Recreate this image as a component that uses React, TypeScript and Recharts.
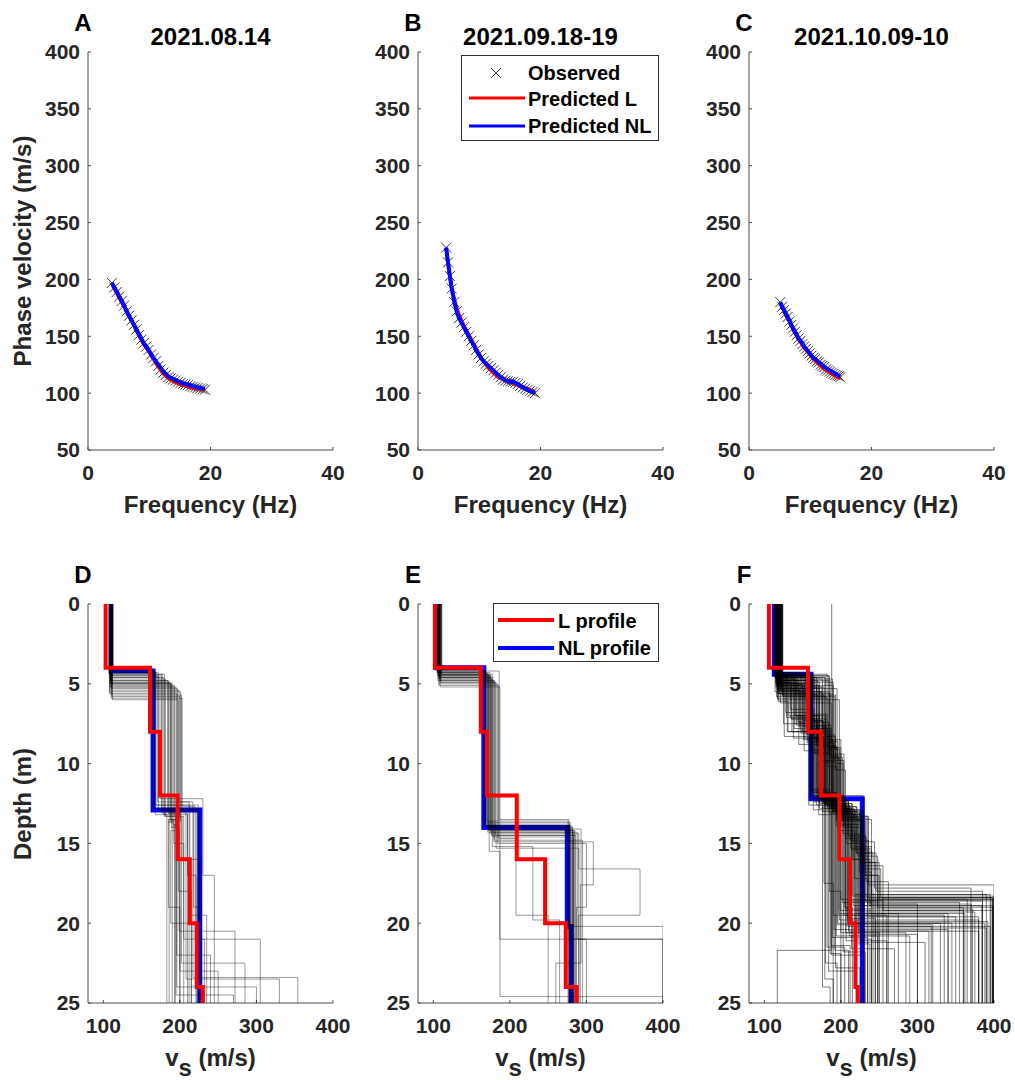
import React from "react";
import { ScatterChart, Scatter, XAxis, YAxis } from "recharts";

/* dispersion curves: frequency (Hz) and phase velocity (m/s) */
const freqA = [3.9, 4.3, 4.7, 5.1, 5.5, 5.9, 6.3, 6.7, 7.1, 7.5, 7.9, 8.3, 8.7, 9.1, 9.5, 9.9, 10.3, 10.7, 11.1, 11.5, 11.9, 12.3, 12.7, 13.1, 13.5, 13.9, 14.3, 14.7, 15.1, 15.5, 15.9, 16.3, 16.7, 17.1, 17.5, 17.9, 18.3, 18.7, 19.1];
const observedA = [197, 193, 189, 185, 181, 177, 172, 168, 164, 160, 156, 151, 147, 144, 141, 138, 134, 131, 128, 124, 121, 118, 116, 114, 113, 112, 111, 110, 109, 108, 107.5, 107, 106, 105.5, 105, 104.5, 104, 103.5, 103];
const predLA = [196, 192, 188, 184, 180, 176, 172, 168, 164, 160, 155, 151, 147, 143, 140, 137, 133, 130, 126, 123, 120, 117, 115, 113, 111.5, 110.5, 109.5, 108.5, 107.5, 107, 106.5, 106, 105, 104.5, 104, 104, 103.5, 103, 102.5];
const predNLA = [197, 193, 189, 185, 181, 177, 172, 168, 164, 160, 156, 152, 148, 144, 141, 138, 134, 131, 128, 125, 122, 119, 117, 115, 113.5, 112.5, 111.5, 110.5, 109.5, 108.5, 108, 107.5, 107, 106, 105.5, 105, 104.5, 104, 104];

const freqB = [4.6, 4.9, 5.2, 5.5, 5.9, 6.3, 6.7, 7.1, 7.5, 7.9, 8.3, 8.7, 9.1, 9.5, 9.9, 10.3, 10.7, 11.1, 11.5, 11.9, 12.3, 12.7, 13.1, 13.5, 13.9, 14.3, 14.7, 15.1, 15.5, 15.9, 16.3, 16.7, 17.1, 17.5, 17.9, 18.3, 18.7, 19.1];
const observedB = [228, 215, 203, 192, 180, 172, 166, 162, 158, 154, 150, 146, 142, 138, 134, 131, 128, 126, 124, 122, 120, 118, 116, 114, 112, 111, 110.5, 110, 110, 109, 108, 106.5, 105, 104, 103, 102, 101, 100];
const predLB = [226, 214, 203, 193, 183, 175, 169, 164, 159, 155, 151, 147, 143, 139, 135, 131, 128, 125, 122, 120, 118, 116, 114, 113, 112, 111, 110, 109.5, 109, 108, 107, 106, 105, 104.5, 104, 103, 102, 101];
const predNLB = [228, 215, 203, 192, 181, 172, 166, 162, 158, 154, 150, 146, 142, 138, 134, 131, 128, 126, 124, 122, 120, 118, 116, 114, 112.5, 111, 110.5, 110, 110, 109, 108, 106.5, 105, 104, 103, 102, 101, 100];

const freqC = [5.1, 5.4, 5.7, 6.0, 6.3, 6.6, 6.9, 7.2, 7.5, 7.8, 8.1, 8.4, 8.7, 9.0, 9.3, 9.6, 9.9, 10.2, 10.5, 10.8, 11.1, 11.4, 11.7, 12.0, 12.3, 12.6, 12.9, 13.2, 13.5, 13.8, 14.1, 14.4, 14.7, 14.9];
const observedC = [180, 176, 173, 170, 167, 163, 160, 157, 154, 151, 148, 146, 143, 141, 139, 137, 135, 133, 131, 130, 128, 127, 125, 124, 123, 121, 120, 119, 118, 117, 116, 115.5, 115, 114];
const predLC = [179, 176, 172, 169, 166, 163, 160, 156, 153, 150, 147, 145, 142, 140, 138, 136, 134, 132, 130, 128.5, 127, 125.5, 124, 122.5, 121, 120, 119, 118, 117, 116, 115, 114, 113.5, 113];
const predNLC = [180, 176, 173, 170, 167, 164, 160, 157, 154, 151, 148, 146, 144, 141, 139, 137, 135, 133, 131, 130, 128.5, 127, 126, 124.5, 123, 122, 121, 120, 119, 118, 117, 116, 115, 114.5];

/* Vs profiles: [vs1, bottom1, vs2, bottom2, ..., vsN]; the last layer runs to 25 m */
const profileLD = [103, 4, 161, 8, 174, 12, 197, 16, 213, 20, 222, 24, 230];
const profileNLD = [110, 4.2, 165, 12.9, 226];
const ensembleD = [
  [110, 4.2, 167, 12.6, 224],
  [109, 4.3, 172, 12.9, 218, 19, 228],
  [111, 4.5, 176, 13.1, 210, 17, 221],
  [108, 4.4, 180, 13.3, 205, 21, 232],
  [112, 4.8, 184, 13.0, 200, 23, 250],
  [110, 5.0, 188, 13.5, 198, 18, 215],
  [109, 5.2, 192, 13.8, 196, 24, 300],
  [111, 4.6, 179, 13.2, 210],
  [110, 4.8, 185, 13.1, 200],
  [111, 4.9, 188, 13.6, 196, 22, 240],
  [109, 5.0, 190, 13.8, 193],
  [112, 5.1, 193, 13.3, 203, 16, 225],
  [110, 5.2, 195, 13.9, 190],
  [111, 5.3, 197, 14.2, 188, 20, 215],
  [110, 5.4, 199, 12.4, 212],
  [108, 5.5, 201, 13.6, 186],
  [111, 5.7, 202, 13.0, 208, 23.5, 330],
  [110, 5.9, 203, 12.7, 220, 21, 305],
  [112, 6.0, 198, 13.5, 185, 19, 200],
  [109, 4.5, 171, 12.4, 217, 23.4, 354],
  [110, 4.2, 168, 13.2, 183],
  [111, 4.6, 174, 12.2, 230, 17, 245],
  [109, 4.9, 186, 13.7, 192, 15, 205],
  [110, 5.0, 189, 14.0, 199, 20.5, 272],
  [112, 4.4, 177, 12.9, 226],
  [108, 5.6, 196, 13.4, 202, 22.5, 285],
  [110, 4.3, 169, 12.6, 213, 19.5, 235],
  [111, 5.8, 200, 13.1, 195, 24.5, 270],
  [109, 4.7, 181, 13.3, 194],
  [110, 4.1, 165, 12.8, 222],
];

const profileLE = [102, 4, 162, 8, 170, 12, 209, 16, 246, 20, 273, 24, 287];
const profileNLE = [104, 4, 166, 14, 275, 20.2, 280];
const ensembleE = [
  [106, 4.1, 166, 13.8, 278],
  [108, 4.2, 168, 14.0, 282],
  [105, 4.3, 170, 13.6, 276],
  [109, 4.4, 172, 14.2, 285],
  [107, 4.5, 175, 14.4, 290],
  [110, 4.6, 178, 14.6, 280, 21.0, 300],
  [106, 4.8, 180, 14.8, 295],
  [108, 5.0, 184, 15.0, 300, 19.0, 287],
  [111, 4.2, 186, 13.5, 277],
  [107, 4.7, 176, 14.5, 283],
  [109, 4.9, 182, 15.3, 290, 16.6, 370, 19.5, 290],
  [106, 4.3, 174, 14.1, 282, 20.2, 400],
  [108, 4.6, 171, 14.3, 288, 21.0, 400],
  [110, 4.4, 177, 15.2, 187, 21.0, 400],
  [107, 5.1, 185, 14.7, 208, 19.5, 250],
  [106, 4.5, 173, 15.5, 187, 24.6, 400],
  [109, 4.8, 179, 14.9, 309, 17.6, 292],
  [105, 4.3, 169, 13.7, 279],
  [108, 4.6, 174, 14.2, 284],
  [110, 4.9, 181, 14.5, 286],
  [107, 4.2, 167, 13.9, 281],
  [111, 4.4, 172, 14.1, 293, 22.5, 260],
  [109, 5.2, 187, 15.2, 230, 19.8, 265],
  [106, 4.5, 175, 14.0, 279],
  [108, 4.7, 177, 14.3, 283],
  [107, 4.4, 171, 13.9, 278],
];

const profileLF = [106, 4, 157, 8, 174, 12, 198, 16, 212, 20, 219, 24, 222];
const profileNLF = [113, 4.4, 161, 12.2, 228];
const ensembleF = [
  [114, 4.3, 125, 7.5, 160, 12.2, 178, 17.5, 190],
  [116, 4.5, 130, 8.0, 165, 12.4, 185, 18.0, 200],
  [118, 4.6, 138, 8.4, 168, 12.6, 190, 19.5, 260],
  [120, 4.8, 145, 8.8, 172, 12.8, 196, 20.0, 330],
  [122, 5.0, 152, 9.2, 176, 13.0, 200, 18.5, 400],
  [115, 4.4, 158, 7.0, 180, 12.1, 205, 19.0, 215],
  [117, 4.7, 165, 7.4, 184, 12.3, 210, 20.5, 380],
  [119, 4.9, 172, 7.8, 188, 12.5, 215, 18.3, 399],
  [121, 5.2, 178, 8.2, 192, 12.7, 220, 21.0, 240],
  [123, 5.5, 185, 8.6, 196, 12.9, 225, 19.6, 350],
  [116, 5.8, 192, 9.0, 200, 13.1, 230, 20.2, 395],
  [118, 6.0, 198, 9.4, 204, 13.3, 235, 18.8, 370],
  [120, 4.3, 128, 6.8, 162, 11.8, 182, 21.5, 205],
  [114, 4.5, 135, 7.2, 166, 12.0, 188, 22.0, 230],
  [117, 4.8, 142, 7.6, 170, 12.2, 194, 20.8, 290],
  [119, 5.1, 150, 8.0, 174, 12.4, 199, 19.2, 360],
  [121, 5.4, 160, 8.4, 179, 12.6, 206, 20.6, 250],
  [124, 5.7, 170, 8.8, 185, 12.8, 212, 18.6, 385],
  [115, 4.6, 180, 9.2, 190, 13.0, 219, 21.2, 310],
  [117, 4.9, 190, 9.6, 197, 13.2, 226, 19.9, 392],
  [119, 5.3, 195, 10.0, 203, 13.4, 233, 18.4, 400],
  [122, 4.4, 132, 7.0, 163, 11.6, 184, 23.0, 220],
  [116, 4.7, 140, 7.5, 169, 11.9, 191, 20.4, 340],
  [118, 5.0, 148, 8.1, 173, 12.2, 197, 19.4, 275],
  [120, 5.6, 156, 8.7, 178, 12.5, 203, 21.8, 232],
  [113, 4.4, 163, 9.3, 183, 12.8, 209, 20.0, 345],
  [115, 5.2, 175, 9.8, 189, 13.1, 216, 18.9, 398],
  [117, 5.9, 183, 10.2, 195, 13.4, 223, 20.7, 300],
  [121, 6.2, 188, 8.5, 200, 12.0, 229, 19.3, 375],
  [119, 4.5, 126, 8.3, 158, 12.6, 176, 24.0, 186],
  [123, 4.9, 136, 8.0, 164, 12.9, 187, 21.4, 212],
  [118, 5.4, 146, 7.7, 171, 13.2, 195, 20.1, 320],
  [116, 4.3, 154, 7.3, 177, 12.1, 202, 18.7, 355],
  [120, 5.0, 162, 6.9, 182, 12.3, 208, 19.7, 245],
  [114, 4.6, 168, 7.9, 186, 12.5, 214, 21.6, 270],
  [122, 5.5, 176, 8.9, 191, 12.7, 221, 20.3, 390],
  [117, 4.8, 186, 9.5, 198, 12.9, 228, 18.5, 365],
  [119, 5.7, 193, 10.4, 206, 13.5, 240, 19.0, 400],
  [121, 4.4, 129, 7.1, 161, 11.7, 180, 22.5, 195],
  [115, 4.7, 139, 7.8, 167, 12.0, 189, 20.9, 235],
  [118, 5.3, 151, 8.5, 175, 12.4, 198, 19.8, 380],
  [120, 4.5, 161, 9.1, 181, 12.6, 207, 21.1, 260],
  [116, 5.1, 171, 7.6, 187, 12.8, 217, 18.2, 395],
  [124, 5.8, 181, 8.3, 193, 13.0, 224, 20.5, 315],
  [113, 4.3, 143, 7.4, 170, 12.3, 193, 22.8, 225],
  [117, 5.0, 157, 8.6, 179, 12.7, 204, 19.5, 335],
  [119, 5.6, 166, 9.4, 185, 13.1, 213, 20.0, 388],
  [121, 4.6, 179, 9.9, 194, 13.6, 232, 18.6, 400],
  [115, 4.9, 134, 6.6, 165, 12.1, 186, 21.9, 200],
  [118, 5.4, 147, 7.9, 172, 12.5, 200, 20.6, 285],
  [120, 4.4, 155, 8.2, 176, 12.2, 206, 19.1, 372],
  [122, 5.2, 168, 8.9, 188, 12.9, 218, 21.3, 238],
  [116, 4.5, 185, 9.7, 199, 13.3, 236, 18.4, 398],
  [118, 6.1, 131, 8.0, 160, 12.0, 179, 23.5, 190],
  [120, 4.8, 159, 7.2, 180, 12.6, 211, 20.8, 248],
  [114, 5.5, 174, 8.7, 190, 13.0, 222, 19.4, 362],
  [123, 4.6, 141, 7.0, 168, 11.9, 192, 21.7, 210],
  [117, 5.3, 153, 8.4, 178, 12.8, 209, 20.2, 318],
  [119, 4.7, 189, 9.0, 196, 13.2, 227, 18.9, 384],
  [117, 4.5, 160, 8.0, 185, 12.4, 210, 14.5, 232, 17.0, 250],
  [119, 4.8, 170, 8.6, 192, 12.9, 218, 15.2, 240, 18.2, 390],
  [121, 5.1, 145, 7.4, 178, 12.2, 204, 14.0, 226, 16.2, 245],
  [116, 4.4, 182, 9.1, 198, 13.4, 222, 15.8, 248, 19.0, 360],
  [118, 5.4, 155, 7.8, 183, 12.6, 212, 14.8, 236, 17.6, 400],
  [120, 4.7, 176, 8.9, 194, 13.1, 216, 16.0, 238, 18.8, 300],
  [122, 5.0, 150, 7.3, 176, 12.0, 200, 13.8, 220, 15.6, 242],
  [115, 4.5, 165, 8.3, 188, 12.8, 214, 15.4, 235, 19.6, 380],
  [117, 5.6, 186, 9.6, 202, 13.6, 228, 16.6, 252, 18.4, 396],
  [119, 4.9, 140, 7.0, 172, 11.9, 196, 14.2, 218, 17.2, 235],
  [121, 5.3, 172, 8.7, 190, 13.0, 215, 14.9, 244, 17.8, 370],
  [118, 4.6, 158, 8.1, 182, 12.5, 207, 15.0, 230, 18.6, 255],
  [116, 5.1, 190, 9.8, 204, 13.8, 230, 16.4, 255, 19.2, 400],
  [120, 4.4, 148, 7.6, 179, 12.3, 203, 14.4, 224, 16.8, 240],
  [123, 5.7, 178, 9.0, 195, 13.2, 220, 15.6, 246, 18.0, 385],
  [117, 4.8, 162, 8.4, 186, 12.7, 209, 14.6, 233, 17.4, 262],
  [119, 5.2, 135, 7.2, 170, 11.8, 194, 13.9, 214, 16.0, 230],
  [121, 4.5, 184, 9.4, 200, 13.5, 226, 16.2, 250, 18.5, 398],
  [115, 5.0, 168, 8.5, 189, 12.9, 213, 15.3, 238, 19.4, 340],
  [118, 4.6, 152, 7.7, 181, 12.4, 206, 14.7, 228, 17.0, 248],
  [188, 21.7, 117],
];

/* axis ticks */
const freqTicks = [0, 20, 40];
const velocityTicks = [50, 100, 150, 200, 250, 300, 350, 400];
const vsTicks = [100, 200, 300, 400];
const depthTicks = [0, 5, 10, 15, 20, 25];

const titles = ["2021.08.14", "2021.09.18-19", "2021.10.09-10"];
const topLetters = ["A", "B", "C"];
const bottomLetters = ["D", "E", "F"];

/* layout */
const COLS = [88, 418, 749];
const PLOT_W = 245;
const TOP_Y = 52;
const TOP_H = 398;
const BOT_Y = 604;
const BOT_H = 399;
const Y_AXIS_W = 88;
const X_AXIS_H = 75;
const PAD_T = 20;
const PAD_R = 30;
const MAX_DEPTH = 25;
const FONT = '"Liberation Sans", Arial, Helvetica, sans-serif';

const toCurve = (freq: number[], vel: number[]) =>
  freq.map((f, i) => ({ x: f, y: vel[i] }));

const toSteps = (layers: number[]) => {
  const pts: { x: number; y: number }[] = [];
  let top = 0;
  for (let i = 0; i < layers.length; i += 2) {
    const bottom = i + 1 < layers.length ? layers[i + 1] : MAX_DEPTH;
    pts.push({ x: layers[i], y: top }, { x: layers[i], y: bottom });
    top = bottom;
  }
  return pts;
};

const axisLine = { stroke: "#4d4d4d", strokeWidth: 1 };
const tickText = { fontSize: 21, fontWeight: 700, fill: "#262626", fontFamily: FONT };

const Cross = (props: any) => {
  const { cx, cy } = props;
  const s = 5;
  return (
    <g stroke="#3a3a3a" strokeWidth={1}>
      <line x1={cx - s} y1={cy - s} x2={cx + s} y2={cy + s} />
      <line x1={cx - s} y1={cy + s} x2={cx + s} y2={cy - s} />
    </g>
  );
};

const NoDot = () => <g />;

const Label = ({ x, y, size = 24, color = "#262626", rotate = false, children }: any) => (
  <div
    style={{
      position: "absolute",
      left: x,
      top: y,
      transform: `translate(-50%, -50%)${rotate ? " rotate(-90deg)" : ""}`,
      fontSize: size,
      fontWeight: 700,
      lineHeight: 1,
      whiteSpace: "nowrap",
      color,
    }}
  >
    {children}
  </div>
);

const DispersionPanel = ({ left, freq, observed, predL, predNL }: any) => (
  <div style={{ position: "absolute", left: left - Y_AXIS_W, top: TOP_Y - PAD_T }}>
    <ScatterChart
      width={Y_AXIS_W + PLOT_W + PAD_R}
      height={PAD_T + TOP_H + X_AXIS_H}
      margin={{ top: PAD_T, right: PAD_R, bottom: 0, left: 0 }}
    >
      <XAxis
        type="number"
        dataKey="x"
        domain={[0, 40]}
        ticks={freqTicks}
        interval={0}
        height={X_AXIS_H}
        tickSize={-3}
        tickMargin={18}
        axisLine={axisLine}
        tickLine={axisLine}
        tick={tickText}
        allowDataOverflow
      />
      <YAxis
        type="number"
        dataKey="y"
        domain={[50, 400]}
        ticks={velocityTicks}
        interval={0}
        width={Y_AXIS_W}
        tickSize={-3}
        tickMargin={11}
        axisLine={axisLine}
        tickLine={axisLine}
        tick={tickText}
        allowDataOverflow
      />
      <Scatter data={toCurve(freq, observed)} shape={Cross} isAnimationActive={false} />
      <Scatter
        data={toCurve(freq, predL)}
        shape={NoDot}
        line={{ stroke: "#ff0000", strokeWidth: 3.5 }}
        lineType="joint"
        isAnimationActive={false}
      />
      <Scatter
        data={toCurve(freq, predNL)}
        shape={NoDot}
        line={{ stroke: "#0000ff", strokeWidth: 4 }}
        lineType="joint"
        isAnimationActive={false}
      />
    </ScatterChart>
  </div>
);

const ProfilePanel = ({ left, ensemble, linear, nonlinear, opacity }: any) => (
  <div style={{ position: "absolute", left: left - Y_AXIS_W, top: BOT_Y - PAD_T }}>
    <ScatterChart
      width={Y_AXIS_W + PLOT_W + PAD_R}
      height={PAD_T + BOT_H + X_AXIS_H}
      margin={{ top: PAD_T, right: PAD_R, bottom: 0, left: 0 }}
    >
      <XAxis
        type="number"
        dataKey="x"
        domain={[80, 400]}
        ticks={vsTicks}
        interval={0}
        height={X_AXIS_H}
        tickSize={-3}
        tickMargin={18}
        axisLine={axisLine}
        tickLine={axisLine}
        tick={tickText}
        allowDataOverflow
      />
      <YAxis
        type="number"
        dataKey="y"
        domain={[0, 25]}
        reversed
        ticks={depthTicks}
        interval={0}
        width={Y_AXIS_W}
        tickSize={-3}
        tickMargin={11}
        axisLine={axisLine}
        tickLine={axisLine}
        tick={tickText}
        allowDataOverflow
      />
      <Scatter
        data={toSteps(nonlinear)}
        shape={NoDot}
        line={{ stroke: "#0000ff", strokeWidth: 5 }}
        lineType="joint"
        isAnimationActive={false}
      />
      {ensemble.map((layers: number[], i: number) => (
        <Scatter
          key={i}
          data={toSteps(layers)}
          shape={NoDot}
          line={{ stroke: "#000", strokeWidth: 1, strokeOpacity: opacity }}
          lineType="joint"
          isAnimationActive={false}
        />
      ))}
      <Scatter
        data={toSteps(linear)}
        shape={NoDot}
        line={{ stroke: "#ff0000", strokeWidth: 4 }}
        lineType="joint"
        isAnimationActive={false}
      />
    </ScatterChart>
  </div>
);

const LegendLine = ({ color, width }: any) => (
  <svg width={56} height={8} style={{ display: "block" }}>
    <line x1={0} y1={4} x2={56} y2={4} stroke={color} strokeWidth={width} />
  </svg>
);

const DispersionLegend = () => (
  <div
    style={{
      position: "absolute",
      left: 461,
      top: 55,
      width: 196,
      height: 84,
      border: "1px solid #333",
      background: "#fff",
      fontSize: 20,
      fontWeight: 700,
      color: "#000",
    }}
  >
    <svg width={12} height={12} style={{ position: "absolute", left: 28, top: 11 }}>
      <line x1={1} y1={1} x2={11} y2={11} stroke="#3a3a3a" />
      <line x1={1} y1={11} x2={11} y2={1} stroke="#3a3a3a" />
    </svg>
    <div style={{ position: "absolute", left: 7, top: 38 }}>
      <LegendLine color="#ff0000" width={3} />
    </div>
    <div style={{ position: "absolute", left: 7, top: 66 }}>
      <LegendLine color="#0000ff" width={3} />
    </div>
    <div style={{ position: "absolute", left: 66, top: 7, lineHeight: 1 }}>Observed</div>
    <div style={{ position: "absolute", left: 66, top: 33, lineHeight: 1 }}>Predicted L</div>
    <div style={{ position: "absolute", left: 66, top: 60, lineHeight: 1 }}>Predicted NL</div>
  </div>
);

const ProfileLegend = () => (
  <div
    style={{
      position: "absolute",
      left: 493,
      top: 603,
      width: 164,
      height: 57,
      border: "1px solid #333",
      background: "#fff",
      fontSize: 20,
      fontWeight: 700,
      color: "#000",
    }}
  >
    <div style={{ position: "absolute", left: 4, top: 12 }}>
      <LegendLine color="#ff0000" width={4} />
    </div>
    <div style={{ position: "absolute", left: 4, top: 40 }}>
      <LegendLine color="#0000ff" width={4} />
    </div>
    <div style={{ position: "absolute", left: 64, top: 7, lineHeight: 1 }}>L profile</div>
    <div style={{ position: "absolute", left: 64, top: 34, lineHeight: 1 }}>NL profile</div>
  </div>
);

const App = () => {
  const dispersion = [
    { freq: freqA, observed: observedA, predL: predLA, predNL: predNLA },
    { freq: freqB, observed: observedB, predL: predLB, predNL: predNLB },
    { freq: freqC, observed: observedC, predL: predLC, predNL: predNLC },
  ];
  const profiles = [
    { ensemble: ensembleD, linear: profileLD, nonlinear: profileNLD, opacity: 0.4 },
    { ensemble: ensembleE, linear: profileLE, nonlinear: profileNLE, opacity: 0.4 },
    { ensemble: ensembleF, linear: profileLF, nonlinear: profileNLF, opacity: 0.5 },
  ];

  return (
    <div
      style={{
        position: "absolute",
        left: 0,
        top: 0,
        width: 1015,
        height: 1080,
        background: "#fff",
        fontFamily: FONT,
        overflow: "hidden",
      }}
    >
      {dispersion.map((d, i) => (
        <DispersionPanel key={"top" + i} left={COLS[i]} {...d} />
      ))}
      {profiles.map((p, i) => (
        <ProfilePanel key={"bot" + i} left={COLS[i]} {...p} />
      ))}

      {COLS.map((c, i) => (
        <React.Fragment key={"lbl" + i}>
          <Label x={c - 5} y={23} color="#000">{topLetters[i]}</Label>
          <Label x={c + PLOT_W / 2} y={37} color="#000">{titles[i]}</Label>
          <Label x={c + PLOT_W / 2} y={505}>Frequency (Hz)</Label>
          <Label x={c - 5} y={575} color="#000">{bottomLetters[i]}</Label>
          <Label x={c + PLOT_W / 2} y={1058}>
            v<span style={{ position: "relative", top: 10 }}>s</span> (m/s)
          </Label>
        </React.Fragment>
      ))}
      <Label x={23} y={251} rotate>Phase velocity (m/s)</Label>
      <Label x={23} y={804} rotate>Depth (m)</Label>

      <DispersionLegend />
      <ProfileLegend />
    </div>
  );
};

export default App;
